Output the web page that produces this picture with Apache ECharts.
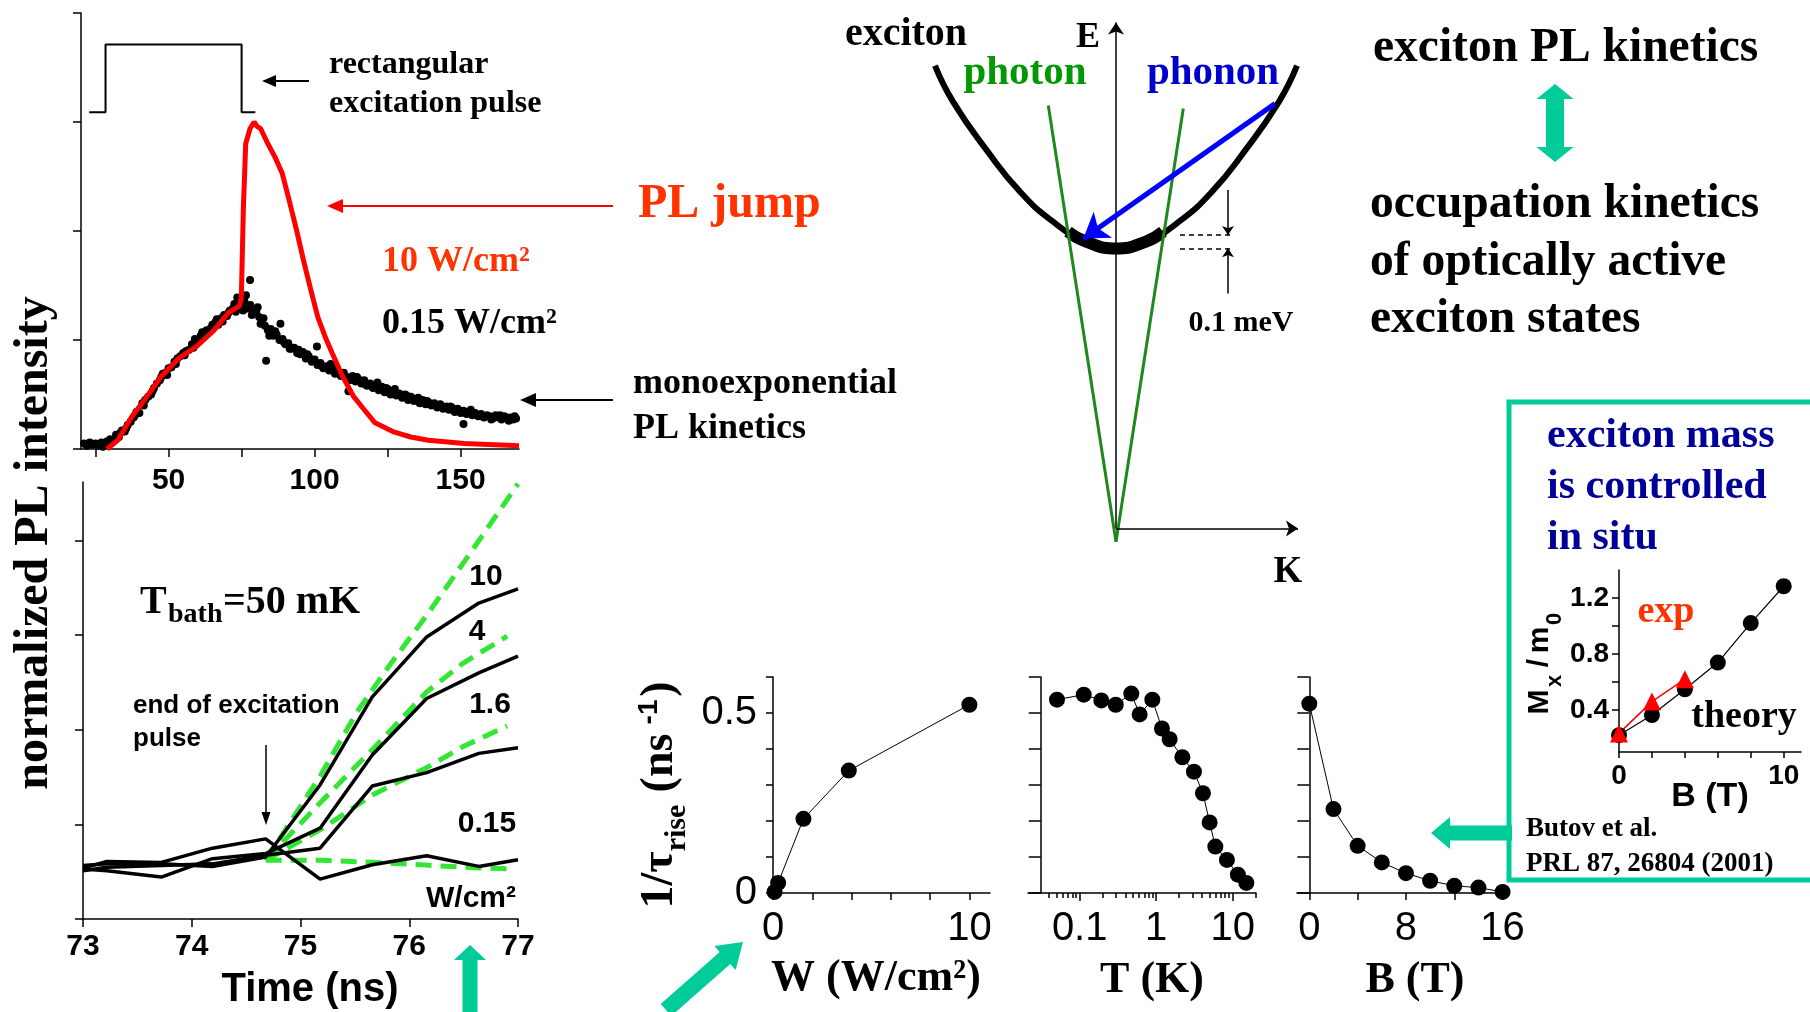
<!DOCTYPE html>
<html>
<head>
<meta charset="utf-8">
<script src="https://cdn.jsdelivr.net/npm/echarts@6/dist/echarts.min.js"></script>
<style>
  html, body { margin: 0; padding: 0; background: #fff; }
  #main { width: 1810px; height: 1012px; }
</style>
</head>
<body>
<div id="main"></div>
<script>
// ---------- data ----------
// top-left: rectangular pulse and PL kinetics (time in ns, PL normalized)
var pulseTime = [22.8, 28.4, 28.4, 75, 75, 79.7];
var pulseLevel = [3.09, 3.09, 3.71, 3.71, 3.09, 3.09];
var jumpTime = [28.9, 32.6, 37.5, 41.2, 47.3, 53.4, 59.5, 65.6, 70.5, 74.2, 74.9, 75.6, 76.4, 77.9, 79.3, 80.3, 81.5, 84.0, 86.4, 88.9, 91.3, 93.8, 96.2, 98.7, 101.1, 103.6, 106.0, 109.7, 113.4, 117.0, 120.7, 126.8, 132.9, 139.0, 151.3, 170];
var jumpPL = [0.0, 0.08, 0.30, 0.43, 0.66, 0.83, 0.94, 1.09, 1.25, 1.31, 1.38, 2.2, 2.8, 2.94, 3.0, 2.96, 2.94, 2.80, 2.68, 2.53, 2.28, 2.01, 1.73, 1.46, 1.21, 1.03, 0.88, 0.66, 0.48, 0.36, 0.24, 0.16, 0.11, 0.08, 0.05, 0.03];
var lowPowerDots = [
  [21,.05],[22,.03],[23,.06],[24,.04],[25,.05],[26,.03],[27,.06],[28,.05],[29,.07],[30,.09],
  [31,.08],[32,.13],[33,.11],[34,.17],[35,.16],[36,.22],[37,.25],[38,.29],[39,.34],[40,.33],
  [41,.42],[42,.45],[43,.48],[44,.50],[45,.56],[46,.60],[47,.63],[48,.69],[49,.70],[50,.74],
  [51,.75],[52,.80],[53,.83],[54,.85],[55,.88],[56,.90],[57,.91],[58,.96],[59,1.01],[60,.99],
  [61,1.04],[62,1.05],[63,1.09],[64,1.08],[65,1.14],[66,1.16],[67,1.14],[68,1.20],[69,1.23],[70,1.22],
  [71,1.27],[72,1.29],[73,1.26],[74,1.32],[75,1.31],[76,1.35],[77,1.29],[78,1.32],[79,1.26],[80,1.26],
  [81,1.21],[82,1.17],[83,1.13],[84,1.09],[85,1.10],[86,1.04],[87,1.05],[88,1.00],[89,1.01],[90,.96],
  [91,.97],[92,.92],[93,.93],[94,.88],[95,.87],[96,.89],[97,.83],[98,.85],[99,.80],[100,.82],
  [101,.77],[102,.79],[103,.74],[104,.76],[105,.72],[106,.75],[107,.69],[108,.71],[109,.67],[110,.70],
  [111,.66],[112,.63],[113,.67],[114,.62],[115,.64],[116,.60],[117,.63],[118,.58],[119,.60],[120,.56],
  [121,.59],[122,.54],[123,.57],[124,.52],[125,.55],[126,.50],[127,.53],[128,.49],[129,.51],[130,.47],
  [131,.50],[132,.45],[133,.48],[134,.44],[135,.46],[136,.42],[137,.45],[138,.41],[139,.43],[140,.40],
  [141,.42],[142,.38],[143,.41],[144,.37],[145,.39],[146,.36],[147,.38],[148,.34],[149,.37],[150,.33],
  [151,.35],[152,.32],[153,.34],[154,.31],[155,.33],[156,.30],[157,.32],[158,.29],[159,.31],[160,.30],
  [161,.28],[162,.31],[163,.29],[164,.27],[165,.30],[166,.28],[167,.29],[168,.27],[169,.28],
  [27.5,.02],[30.5,.06],[33.5,.15],[35.5,.19],[38.5,.31],[41.5,.40],[44.5,.53],[47.5,.66],[49.5,.68],
  [52.5,.78],[55.5,.86],[58.5,.93],[61.5,1.07],[64.5,1.11],[66.5,1.19],[68.5,1.17],[70.5,1.25],
  [72.5,1.33],[73.5,1.39],[75.5,1.27],[76.5,1.41],[77.9,1.55],[78.5,1.23],[80.5,1.30],[81.5,1.15],
  [82.5,1.20],[83.4,.81],[84.5,1.04],[86.5,1.08],[88.3,1.15],[89.5,.98],[91.5,.92],[94.5,.91],
  [97.5,.87],[100.8,.94],[102.5,.76],[105.5,.78],[108.5,.70],[111.6,.53],[114.5,.66],[117.5,.59],
  [121.5,.61],[124.5,.56],[127.5,.55],[131.5,.49],[135.5,.47],[138.5,.44],[142.5,.40],[146.5,.39],
  [151,.23],[153.5,.36],[157.5,.30],[160.5,.27],[163.5,.31],[166.5,.26],[168.5,.30]
];

// bottom-left: PL rise after the pulse end, for 10, 4, 1.6, 0.15 W/cm2
var riseTime = [73, 73.22, 73.72, 74.19, 74.68, 75.18, 75.66, 76.16, 76.64, 77];
var rise10 = [0.565, 0.583, 0.583, 0.554, 0.656, 1.417, 2.349, 2.982, 3.34, 3.49];
var rise4 = [0.528, 0.51, 0.443, 0.638, 0.692, 0.96, 1.733, 2.331, 2.602, 2.778];
var rise16 = [0.51, 0.546, 0.565, 0.583, 0.674, 0.749, 1.406, 1.547, 1.751, 1.811];
var rise015 = [0.538, 0.608, 0.598, 0.749, 0.847, 0.422, 0.573, 0.668, 0.556, 0.626];
var fit10 = [[74.68,0.62],[75.19,1.53],[75.52,2.19],[75.83,2.70],[76.16,3.21],[76.58,3.9],[77,4.6]];
var fit4 = [[74.68,0.62],[74.86,0.84],[75.19,1.24],[75.66,1.79],[76.16,2.40],[76.49,2.70],[76.9,2.99]];
var fit16 = [[74.68,0.62],[75.19,0.95],[75.66,1.31],[76.16,1.60],[76.49,1.82],[76.9,2.04]];
var fit015 = [[74.68,0.62],[75.2,0.62],[75.66,0.60],[76.15,0.57],[76.64,0.54],[76.9,0.53]];

// dispersion sketch (arbitrary units, origin at K = 0, E = 0)
var excitonK = [-181, -163, -129, -96, -63, -30, 0, 30, 63, 96, 129, 163, 181];
var excitonE = [463, 427, 378, 337, 307, 287, 281, 287, 307, 337, 378, 427, 463];
var bandK = [-48, -30, 0, 30, 47];
var bandE = [297, 287, 280, 287, 297];
var photonLeft = [[-67.7, 423], [0, -13.2]];
var photonRight = [[0, -13.2], [67.3, 420]];

// 1/tau_rise versus W, T, B
var wPower = [0.08, 0.26, 1.55, 3.86, 10];
var wRate = [0.003, 0.028, 0.206, 0.34, 0.523];
var tempK = [0.0505, 0.113, 0.192, 0.296, 0.473, 0.608, 0.891, 1.19, 1.50, 2.20, 3.12, 4.09, 5.0, 5.94, 8.42, 11.7, 15.1];
var tRate = [0.537, 0.551, 0.535, 0.523, 0.554, 0.496, 0.537, 0.457, 0.427, 0.377, 0.337, 0.277, 0.196, 0.129, 0.092, 0.051, 0.028];
var fieldT = [0, 2, 4, 6, 8, 10, 12, 14, 16];
var bRate = [0.526, 0.233, 0.131, 0.085, 0.055, 0.034, 0.020, 0.015, 0.003];

// inset: exciton mass vs B
var massB = [0, 2, 4, 6, 8, 10];
var massTheory = [0.22, 0.364, 0.548, 0.739, 1.021, 1.284];
var massExpB = [0, 2, 4];
var massExp = [0.233, 0.46, 0.62];

// ---------- helpers ----------
var SERIF = '"Liberation Serif"';
var SANS = '"Liberation Sans"';
var TEAL = '#00cc99';
var LIME = '#33e633';

function pairs(xs, ys) { return xs.map(function (x, i) { return [x, ys[i]]; }); }

function valAxis(grid, min, max, ticks, labels, tickLen, label) {
  return {
    type: 'value', gridIndex: grid, min: min, max: max,
    axisLine: { show: true, onZero: false, lineStyle: { color: '#000', width: 1.5 } },
    axisTick: { show: true, customValues: ticks, length: tickLen, lineStyle: { color: '#000', width: 1.5 } },
    axisLabel: Object.assign({ show: labels.length > 0, customValues: labels, color: '#000' }, label || {}),
    splitLine: { show: false }
  };
}

function txt(x, y, s, font, color, align, rot) {
  var el = { type: 'text', x: x, y: y, z: 10,
    style: { text: s, font: font, fill: color || '#000',
      textAlign: align || 'left', textVerticalAlign: 'middle',
      align: align || 'left', verticalAlign: 'middle' } };
  if (rot) el.rotation = rot;
  return el;
}

function lineArrow(x1, y1, x2, y2, color, width, headLen, headW) {
  var a = Math.atan2(y2 - y1, x2 - x1);
  var bx = x2 - headLen * Math.cos(a), by = y2 - headLen * Math.sin(a);
  var px = -Math.sin(a) * headW / 2, py = Math.cos(a) * headW / 2;
  return [
    { type: 'line', z: 10, shape: { x1: x1, y1: y1, x2: bx, y2: by }, style: { stroke: color, lineWidth: width } },
    { type: 'polygon', z: 10, shape: { points: [[x2, y2], [bx + px, by + py], [bx - px, by - py]] }, style: { fill: color } }
  ];
}

function blockArrow(x1, y1, x2, y2, shaft, head, headLen) {
  var dx = x2 - x1, dy = y2 - y1, L = Math.sqrt(dx * dx + dy * dy);
  var ux = dx / L, uy = dy / L, nx = -uy, ny = ux;
  var bx = x2 - ux * headLen, by = y2 - uy * headLen, s = shaft / 2, h = head / 2;
  return { type: 'polygon', z: 10, shape: { points: [
    [x1 + nx * s, y1 + ny * s], [bx + nx * s, by + ny * s], [bx + nx * h, by + ny * h], [x2, y2],
    [bx - nx * h, by - ny * h], [bx - nx * s, by - ny * s], [x1 - nx * s, y1 - ny * s]] },
    style: { fill: TEAL } };
}

function doubleArrow(x, y1, y2, shaft, head, headLen) {
  var s = shaft / 2, h = head / 2;
  return { type: 'polygon', z: 10, shape: { points: [
    [x, y1], [x + h, y1 + headLen], [x + s, y1 + headLen], [x + s, y2 - headLen], [x + h, y2 - headLen],
    [x, y2], [x - h, y2 - headLen], [x - s, y2 - headLen], [x - s, y1 + headLen], [x - h, y1 + headLen]] },
    style: { fill: TEAL } };
}

function marker(lines, color, width, type, arrowSize) {
  return {
    type: 'line', xAxisIndex: 2, yAxisIndex: 2, data: [], silent: true,
    markLine: {
      silent: true, animation: false,
      symbol: arrowSize ? ['none', 'arrow'] : ['none', 'none'],
      symbolSize: arrowSize || 0,
      label: { show: false },
      lineStyle: { color: color, width: width, type: type || 'solid' },
      emphasis: { disabled: true },
      data: lines.map(function (l) { return [{ coord: l[0] }, { coord: l[1] }]; })
    }
  };
}

var thinLabel = { fontFamily: SANS, fontWeight: 'normal', fontSize: 40, margin: 16 };
var rateTicks = [0, 0.1, 0.2, 0.3, 0.4, 0.5, 0.6];
var fitStyle = { color: LIME, width: 5, type: [16, 9] };
var riseStyle = { color: '#000', width: 3.5 };

// ---------- graphic annotations ----------
var g = [];
// top-left panel
g.push(txt(329, 65, 'rectangular', 'bold 32px ' + SERIF));
g.push(txt(329, 104, 'excitation pulse', 'bold 32px ' + SERIF));
g = g.concat(lineArrow(309, 81, 262, 81, '#000', 2, 14, 12));
g = g.concat(lineArrow(613, 206, 327, 206, '#ff0000', 2, 16, 14));
g.push(txt(638, 205, 'PL jump', 'bold 48px ' + SERIF, '#ff3300'));
g.push(txt(382, 262, '10 W/cm²', 'bold 36px ' + SERIF, '#ff3300'));
g.push(txt(382, 324, '0.15 W/cm²', 'bold 36px ' + SERIF));
g = g.concat(lineArrow(613, 400, 520, 400, '#000', 2, 16, 14));
g.push(txt(633, 384, 'monoexponential', 'bold 36px ' + SERIF));
g.push(txt(633, 429, 'PL kinetics', 'bold 36px ' + SERIF));
g.push(txt(35, 543, 'normalized PL intensity', 'bold 48px ' + SERIF, '#000', 'center', Math.PI / 2));
// bottom-left panel
g.push(txt(310, 990, 'Time (ns)', 'bold 40px ' + SANS, '#000', 'center'));
g.push(txt(140, 603, 'T', 'bold 40px ' + SERIF));
g.push(txt(168, 615, 'bath', 'bold 28px ' + SERIF));
g.push(txt(223, 603, '=50 mK', 'bold 40px ' + SERIF));
g.push(txt(133, 706, 'end of excitation', 'bold 26px ' + SANS));
g.push(txt(133, 739, 'pulse', 'bold 26px ' + SANS));
g = g.concat(lineArrow(266, 745, 266, 825, '#000', 1.5, 13, 9));
g.push(txt(486, 577, '10', 'bold 30px ' + SANS, '#000', 'center'));
g.push(txt(477, 632, '4', 'bold 30px ' + SANS, '#000', 'center'));
g.push(txt(490, 705, '1.6', 'bold 30px ' + SANS, '#000', 'center'));
g.push(txt(487, 824, '0.15', 'bold 30px ' + SANS, '#000', 'center'));
g.push(txt(471, 899, 'W/cm²', 'bold 30px ' + SANS, '#000', 'center'));
g.push(blockArrow(470, 1030, 470, 945, 15, 32, 15));
// dispersion sketch labels
g.push(txt(906, 35, 'exciton', 'bold 40px ' + SERIF, '#000', 'center'));
g.push(txt(1088, 38, 'E', 'bold 36px ' + SERIF, '#000', 'center'));
g.push(txt(1025, 73, 'photon', 'bold 41px ' + SERIF, '#009900', 'center'));
g.push(txt(1213, 73, 'phonon', 'bold 41px ' + SERIF, '#0000cc', 'center'));
g.push(txt(1288, 572, 'K', 'bold 37px ' + SERIF, '#000', 'center'));
g.push(txt(1241, 323, '0.1 meV', 'bold 30px ' + SERIF, '#000', 'center'));
// top-right text
g.push(txt(1373, 49, 'exciton PL kinetics', 'bold 47.5px ' + SERIF));
g.push(doubleArrow(1555, 84, 162, 18, 37, 15));
g.push(txt(1370, 205, 'occupation kinetics', 'bold 47.5px ' + SERIF));
g.push(txt(1370, 263, 'of optically active', 'bold 47.5px ' + SERIF));
g.push(txt(1370, 320, 'exciton states', 'bold 47.5px ' + SERIF));
// bottom panels titles
g.push(txt(660, 880, '1/τ', 'bold 46px ' + SERIF, '#000', 'center', Math.PI / 2));
g.push(txt(677, 828, 'rise', 'bold 30px ' + SERIF, '#000', 'center', Math.PI / 2));
g.push(txt(660, 763, '(ns', 'bold 46px ' + SERIF, '#000', 'center', Math.PI / 2));
g.push(txt(649, 712, '-1', 'bold 28px ' + SANS, '#000', 'center', Math.PI / 2));
g.push(txt(660, 689, ')', 'bold 46px ' + SERIF, '#000', 'center', Math.PI / 2));
g.push(txt(876, 979, 'W (W/cm²)', 'bold 44px ' + SERIF, '#000', 'center'));
g.push(txt(1152, 981, 'T (K)', 'bold 44px ' + SERIF, '#000', 'center'));
g.push(txt(1415, 981, 'B (T)', 'bold 44px ' + SERIF, '#000', 'center'));
g.push(blockArrow(666, 1010, 743, 942, 16, 32, 24));
g.push(blockArrow(1512, 833, 1431, 833, 15, 32, 19));
// inset box
g.push({ type: 'rect', z: 9, shape: { x: 1509, y: 402, width: 330, height: 478 }, style: { fill: 'none', stroke: TEAL, lineWidth: 5 } });
g.push(txt(1547, 436, 'exciton mass', 'bold 42px ' + SERIF, '#000099'));
g.push(txt(1547, 487, 'is controlled', 'bold 42px ' + SERIF, '#000099'));
g.push(txt(1547, 538, 'in situ', 'bold 42px ' + SERIF, '#000099'));
g.push(txt(1666, 612, 'exp', 'bold 38px ' + SERIF, '#ff3300', 'center'));
g.push(txt(1744, 717, 'theory', 'bold 38px ' + SERIF, '#000', 'center'));
g.push(txt(1526, 829, 'Butov et al.', 'bold 27px ' + SERIF));
g.push(txt(1526, 864, 'PRL 87, 26804 (2001)', 'bold 27px ' + SERIF));
g.push(txt(1710, 797, 'B (T)', 'bold 34px ' + SANS, '#000', 'center'));
g.push(txt(1540, 702, 'M', 'bold 30px ' + SANS, '#000', 'center', Math.PI / 2));
g.push(txt(1555, 681, 'x', 'bold 22px ' + SANS, '#000', 'center', Math.PI / 2));
g.push(txt(1540, 663, '/', 'bold 30px ' + SANS, '#000', 'center', Math.PI / 2));
g.push(txt(1540, 640, 'm', 'bold 30px ' + SANS, '#000', 'center', Math.PI / 2));
g.push(txt(1555, 619, '0', 'bold 22px ' + SANS, '#000', 'center', Math.PI / 2));

// ---------- chart ----------
var myChart = echarts.init(document.getElementById('main'));

var option = {
  animation: false,
  backgroundColor: '#fff',
  grid: [
    { left: 81, top: 13, width: 438, height: 436 },     // 0 PL kinetics
    { left: 83, top: 482, width: 435, height: 437 },    // 1 PL rise
    { left: 900, top: 20, width: 400, height: 524 },    // 2 dispersion
    { left: 773, top: 677, width: 217, height: 216 },   // 3 W
    { left: 1028, top: 677, width: 228, height: 216 },  // 4 T
    { left: 1297, top: 677, width: 212, height: 216 },  // 5 B
    { left: 1619, top: 570, width: 182, height: 182 }   // 6 inset
  ],
  xAxis: [
    valAxis(0, 20, 170, [25, 50, 75, 100, 125, 150], [50, 100, 150], 8, { fontFamily: SANS, fontWeight: 'bold', fontSize: 30, margin: 17 }),
    valAxis(1, 73, 77, [73, 74, 75, 76, 77], [73, 74, 75, 76, 77], 8, { fontFamily: SANS, fontWeight: 'bold', fontSize: 30, margin: 13 }),
    { type: 'value', gridIndex: 2, min: -216, max: 184, show: false },
    valAxis(3, 0, 11.05, [0, 2, 4, 6, 8, 10], [0, 10], 7, thinLabel),
    { type: 'log', gridIndex: 4, min: 0.0211, max: 20.2,
      axisLine: { show: true, onZero: false, lineStyle: { color: '#000', width: 1.5 } },
      axisTick: { show: true, customValues: [0.1, 1, 10], length: 8, lineStyle: { color: '#000', width: 1.5 } },
      axisLabel: Object.assign({ customValues: [0.1, 1, 10], color: '#000' }, thinLabel),
      splitLine: { show: false } },
    { type: 'log', gridIndex: 4, min: 0.0211, max: 20.2, position: 'bottom',
      axisLine: { show: false },
      axisTick: { show: true, customValues: [0.04, 0.05, 0.06, 0.07, 0.08, 0.09, 0.2, 0.3, 0.4, 0.5, 0.6, 0.7, 0.8, 0.9, 2, 3, 4, 5, 6, 7, 8, 9, 20], length: 5, lineStyle: { color: '#000', width: 1.5 } },
      axisLabel: { show: false }, splitLine: { show: false } },
    valAxis(5, -1.02, 16.53, [0, 4, 8, 12, 16], [0, 8, 16], 7, thinLabel),
    valAxis(6, 0, 11.05, [0, 2, 4, 6, 8, 10], [0, 10], 6, { fontFamily: SANS, fontWeight: 'bold', fontSize: 28, margin: 10 })
  ],
  yAxis: [
    valAxis(0, 0, 4, [0, 1, 2, 3, 4], [], 8),
    valAxis(1, 0, 4.62, [0, 1, 2, 3, 4], [], 8),
    { type: 'value', gridIndex: 2, min: -15.4, max: 508.6, show: false },
    valAxis(3, 0, 0.6, rateTicks, [0, 0.5], 7, { fontFamily: SANS, fontSize: 40, margin: 16 }),
    Object.assign(valAxis(4, 0, 0.6, rateTicks, [], 12), { offset: -12.7 }),
    Object.assign(valAxis(5, 0, 0.6, rateTicks, [], 12), { offset: -12.3 }),
    valAxis(6, 0.1, 1.4, [0.2, 0.4, 0.6, 0.8, 1.0, 1.2], [0.4, 0.8, 1.2], 7, { fontFamily: SANS, fontWeight: 'bold', fontSize: 28, margin: 10 })
  ],
  graphic: { elements: g },
  series: [
    // PL kinetics
    { type: 'line', xAxisIndex: 0, yAxisIndex: 0, data: pairs(pulseTime, pulseLevel), showSymbol: false,
      lineStyle: { color: '#000', width: 2 } },
    { type: 'line', xAxisIndex: 0, yAxisIndex: 0, data: pairs(jumpTime, jumpPL), showSymbol: false,
      lineStyle: { color: '#ff0000', width: 5 } },
    { type: 'scatter', xAxisIndex: 0, yAxisIndex: 0, data: lowPowerDots, symbolSize: 8,
      itemStyle: { color: '#000', opacity: 1 } },
    // PL rise: fits (dashed) and data
    { type: 'line', xAxisIndex: 1, yAxisIndex: 1, data: fit10, showSymbol: false, lineStyle: fitStyle },
    { type: 'line', xAxisIndex: 1, yAxisIndex: 1, data: fit4, showSymbol: false, lineStyle: fitStyle },
    { type: 'line', xAxisIndex: 1, yAxisIndex: 1, data: fit16, showSymbol: false, lineStyle: fitStyle },
    { type: 'line', xAxisIndex: 1, yAxisIndex: 1, data: fit015, showSymbol: false, lineStyle: fitStyle },
    { type: 'line', xAxisIndex: 1, yAxisIndex: 1, data: pairs(riseTime, rise10), showSymbol: false, lineStyle: riseStyle },
    { type: 'line', xAxisIndex: 1, yAxisIndex: 1, data: pairs(riseTime, rise4), showSymbol: false, lineStyle: riseStyle },
    { type: 'line', xAxisIndex: 1, yAxisIndex: 1, data: pairs(riseTime, rise16), showSymbol: false, lineStyle: riseStyle },
    { type: 'line', xAxisIndex: 1, yAxisIndex: 1, data: pairs(riseTime, rise015), showSymbol: false, lineStyle: riseStyle },
    // dispersion sketch
    { type: 'line', xAxisIndex: 2, yAxisIndex: 2, data: pairs(excitonK, excitonE), smooth: true, showSymbol: false,
      lineStyle: { color: '#000', width: 6 } },
    { type: 'line', xAxisIndex: 2, yAxisIndex: 2, data: pairs(bandK, bandE), smooth: true, showSymbol: false,
      lineStyle: { color: '#000', width: 12 } },
    { type: 'line', xAxisIndex: 2, yAxisIndex: 2, data: photonLeft, showSymbol: false, lineStyle: { color: '#1e881e', width: 3 } },
    { type: 'line', xAxisIndex: 2, yAxisIndex: 2, data: photonRight, showSymbol: false, lineStyle: { color: '#1e881e', width: 3 } },
    marker([[[0, 0], [0, 506]], [[0, 0], [182, 0]]], '#000', 1.5, 'solid', 12),
    marker([[[159, 425], [-32.7, 290]]], '#0000ff', 5, 'solid', 24),
    marker([[[64, 293.5], [116, 293.5]], [[64, 280.3], [116, 280.3]]], '#000', 1.5, [5, 4]),
    marker([[[112, 338.6], [112, 293.5]], [[112, 235], [112, 280.3]]], '#000', 1.5, 'solid', 9),
    // 1/tau vs W, T, B
    { type: 'line', xAxisIndex: 3, yAxisIndex: 3, data: pairs(wPower, wRate), symbol: 'circle', symbolSize: 16,
      itemStyle: { color: '#000' }, lineStyle: { color: '#000', width: 1 } },
    { type: 'line', xAxisIndex: 4, yAxisIndex: 4, data: pairs(tempK, tRate), symbol: 'circle', symbolSize: 16,
      itemStyle: { color: '#000' }, lineStyle: { color: '#000', width: 1 } },
    { type: 'line', xAxisIndex: 6, yAxisIndex: 5, data: pairs(fieldT, bRate), symbol: 'circle', symbolSize: 16,
      itemStyle: { color: '#000' }, lineStyle: { color: '#000', width: 1 } },
    // inset: exciton mass
    { type: 'line', xAxisIndex: 7, yAxisIndex: 6, data: pairs(massB, massTheory), symbol: 'circle', symbolSize: 16,
      itemStyle: { color: '#000' }, lineStyle: { color: '#000', width: 1.2 } },
    { type: 'line', xAxisIndex: 7, yAxisIndex: 6, data: pairs(massExpB, massExp), symbol: 'triangle', symbolSize: 18,
      itemStyle: { color: '#ff0000' }, lineStyle: { color: '#ff0000', width: 1.5 } }
  ]
};

myChart.setOption(option);
</script>
</body>
</html>
